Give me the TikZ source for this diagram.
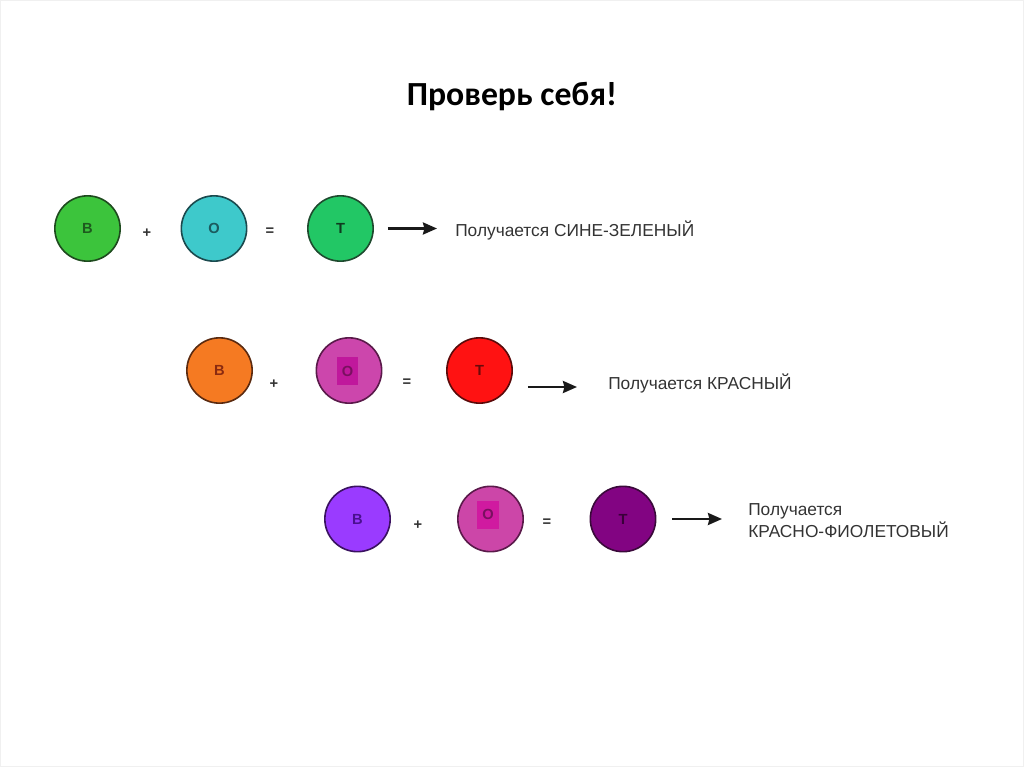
\documentclass[tikz,border=0pt]{standalone}
\usepackage{fontspec}
\setmainfont{Liberation Sans}
\newfontfamily\titlefont{Carlito}
\usetikzlibrary{arrows.meta}
\definecolor{txt}{HTML}{333333}
\definecolor{fa1}{HTML}{3CC43C}\definecolor{ta1}{HTML}{1E5A1E}\definecolor{da1}{HTML}{1E4A1E}
\definecolor{fb1}{HTML}{3EC9CB}\definecolor{tb1}{HTML}{1B5A5E}\definecolor{db1}{HTML}{1B4A4E}
\definecolor{fc1}{HTML}{22C765}\definecolor{tc1}{HTML}{0F3A1F}\definecolor{dc1}{HTML}{1E4A2E}
\definecolor{fa2}{HTML}{F57A22}\definecolor{ta2}{HTML}{8A2A10}\definecolor{da2}{HTML}{5A2A10}
\definecolor{fb2}{HTML}{CC46AC}\definecolor{db2}{HTML}{5A1A4A}
\definecolor{fs2}{HTML}{C0189C}\definecolor{ts2}{HTML}{7A1060}
\definecolor{fc2}{HTML}{FF1212}\definecolor{tc2}{HTML}{6A0A0A}\definecolor{dc2}{HTML}{5A0A0A}
\definecolor{fa3}{HTML}{9A3BFF}\definecolor{ta3}{HTML}{4A1090}\definecolor{da3}{HTML}{3A1260}
\definecolor{fb3}{HTML}{CC46A8}\definecolor{db3}{HTML}{5A1A4A}
\definecolor{fs3}{HTML}{D01AA0}\definecolor{ts3}{HTML}{7A1060}
\definecolor{fc3}{HTML}{820482}\definecolor{tc3}{HTML}{3A003A}\definecolor{dc3}{HTML}{3A0A3A}
\tikzset{
  disc/.style={circle, draw=#1, line width=1.2pt, minimum size=49pt, inner sep=0pt, font=\fontsize{11}{12}\selectfont\bfseries},
  op/.style={font=\fontsize{11}{12}\selectfont\bfseries, text=txt, inner sep=0pt},
  res/.style={anchor=west, font=\fontsize{13}{16.5}\selectfont, text=txt, align=left, inner sep=0pt},
  arr/.style={-{Stealth[length=10.5pt,width=9pt,inset=1pt]}, line width=1.8pt, black!90},
  sq/.style={inner sep=0pt, minimum width=16pt, minimum height=21pt, font=\fontsize{11}{12}\selectfont\bfseries}
}
\begin{document}
\begin{tikzpicture}[x=0.75pt,y=-0.75pt]
\useasboundingbox (0,0) rectangle (1024,767);
\draw[black!6, line width=0.8pt] (0.5,0.5) rectangle (1023.5,766.5);
\node[font=\titlefont\fontsize{25.3}{28}\selectfont\bfseries] (title) at (512,97) {Проверь себя!};
% Row 1
\node[disc=da1, fill=fa1, text=ta1] (a1) at (87.5,228.5) {В};
\node[op] (p1) at (147,233) {+};
\node[disc=db1, fill=fb1, text=tb1] (b1) at (214,228.5) {О};
\node[op] (e1) at (270,232) {=};
\node[disc=dc1, fill=fc1, text=tc1] (c1) at (340.5,228.5) {Т};
\node[res] (t1) at (455,230) {Получается СИНЕ-ЗЕЛЕНЫЙ};
\draw[arr, shorten <=10.5pt, shorten >=13.5pt] (c1.east) -- (c1.east -| t1.west);
% Row 2
\node[disc=da2, fill=fa2, text=ta2] (a2) at (219.5,370.5) {В};
\node[op] (p2) at (274,384) {+};
\node[disc=db2, fill=fb2] (b2) at (349,370.5) {};
\node[sq, fill=fs2, text=ts2] (s2) at (347.5,371) {О};
\node[op] (e2) at (407,383) {=};
\node[disc=dc2, fill=fc2, text=tc2] (c2) at (479.5,370.5) {Т};
\node[res] (t2) at (608,383) {Получается КРАСНЫЙ};
\draw[arr, shorten <=11.25pt, shorten >=23.25pt] ([yshift=-3pt]c2.east |- t2.west) -- ([yshift=-3pt]t2.west);
% Row 3
\node[disc=da3, fill=fa3, text=ta3] (a3) at (357.5,519) {В};
\node[op] (p3) at (418,525) {+};
\node[disc=db3, fill=fb3] (b3) at (490.5,519) {};
\node[sq, fill=fs3, text=ts3] (s3) at (488,514.5) {О};
\node[op] (e3) at (547,523) {=};
\node[disc=dc3, fill=fc3, text=tc3] (c3) at (623,519) {Т};
\node[res] (t3) at (748,521) {Получается\\КРАСНО-ФИОЛЕТОВЫЙ};
\draw[arr, shorten <=12pt, shorten >=19.5pt] (c3.east) -- (c3.east -| t3.west);
\end{tikzpicture}
\end{document}
